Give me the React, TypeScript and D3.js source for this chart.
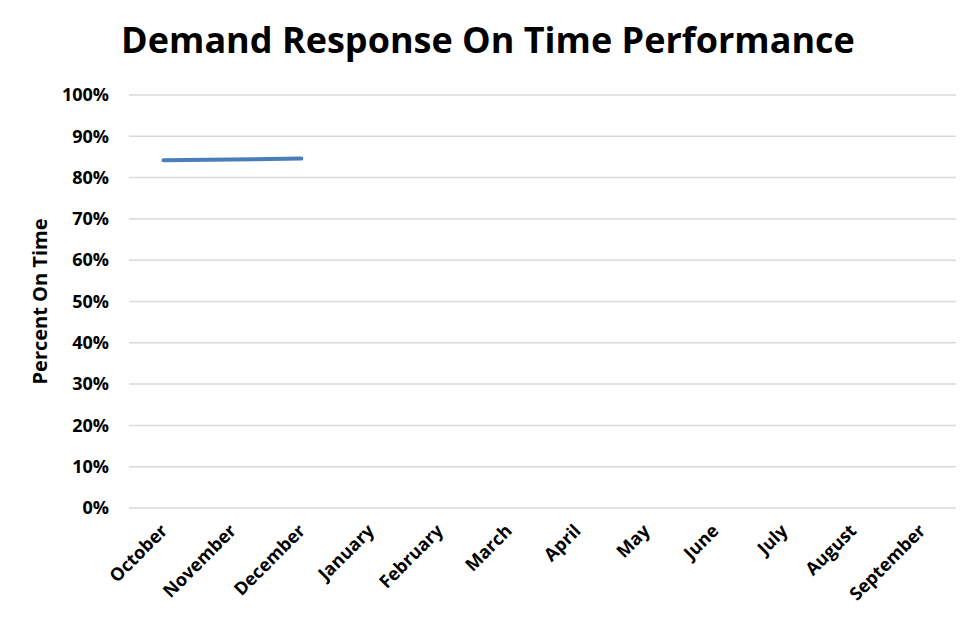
import { useRef, useEffect } from 'react';
import * as d3 from 'd3';

const months = ['October', 'November', 'December', 'January', 'February', 'March', 'April', 'May', 'June', 'July', 'August', 'September'];
const onTime = [0.842, 0.844, 0.846];
const yTicks = [0, 0.1, 0.2, 0.3, 0.4, 0.5, 0.6, 0.7, 0.8, 0.9, 1];

export default function App() {
  const svgRef = useRef<SVGSVGElement | null>(null);

  useEffect(() => {
    if (!svgRef.current) return;
    d3.select(svgRef.current).selectAll('*').remove();

    const width = 974;
    const height = 620;
    const margin = { top: 95, right: 18, bottom: 112, left: 129 };
    const innerWidth = width - margin.left - margin.right;
    const innerHeight = height - margin.top - margin.bottom;
    const font = '"Open Sans", Calibri, sans-serif';

    const svg = d3.select(svgRef.current);

    // title
    svg.append('text')
      .attr('x', 488)
      .attr('y', 53)
      .attr('text-anchor', 'middle')
      .style('font-family', font)
      .style('font-weight', 'bold')
      .style('font-size', '36px')
      .text('Demand Response On Time Performance');

    const g = svg.append('g')
      .attr('transform', `translate(${margin.left},${margin.top})`);

    const xScale = d3.scaleBand()
      .domain(months)
      .range([0, innerWidth]);

    const yScale = d3.scaleLinear()
      .domain([0, 1])
      .range([innerHeight, 0]);

    // gridlines
    g.append('g')
      .selectAll('line')
      .data(yTicks)
      .enter()
      .append('line')
      .attr('x1', 0)
      .attr('x2', innerWidth)
      .attr('y1', d => yScale(d))
      .attr('y2', d => yScale(d))
      .attr('stroke', '#d9d9d9')
      .attr('stroke-width', 1.5);

    // y axis labels
    const yAxis = g.append('g')
      .call(d3.axisLeft(yScale).tickValues(yTicks).tickFormat(d3.format('.0%')).tickSize(0).tickPadding(20));
    yAxis.select('.domain').remove();
    yAxis.selectAll('text')
      .style('font-family', font)
      .style('font-weight', 'bold')
      .style('font-size', '18px')
      .attr('fill', '#000');

    // x axis labels
    const xAxis = g.append('g')
      .attr('transform', `translate(0,${innerHeight})`)
      .call(d3.axisBottom(xScale).tickSize(0).tickPadding(0));
    xAxis.select('.domain').remove();
    xAxis.selectAll('text')
      .style('font-family', font)
      .style('font-weight', 'bold')
      .style('font-size', '18px')
      .attr('fill', '#000')
      .attr('text-anchor', 'end')
      .attr('dy', null)
      .attr('transform', 'translate(5,24) rotate(-45)');

    // y axis title
    svg.append('text')
      .attr('transform', `translate(47,${margin.top + innerHeight / 2}) rotate(-90)`)
      .attr('text-anchor', 'middle')
      .style('font-family', font)
      .style('font-weight', 'bold')
      .style('font-size', '20px')
      .text('Percent On Time');

    // line
    const line = d3.line<number>()
      .x((_, i) => (xScale(months[i]) ?? 0) + xScale.bandwidth() / 2)
      .y(d => yScale(d));

    g.append('path')
      .datum(onTime)
      .attr('d', line)
      .attr('fill', 'none')
      .attr('stroke', '#4a7ebb')
      .attr('stroke-width', 4)
      .attr('stroke-linecap', 'round');
  }, []);

  return (
    <svg ref={svgRef} width={974} height={620} style={{ display: 'block', margin: '-8px' }} />
  );
}
